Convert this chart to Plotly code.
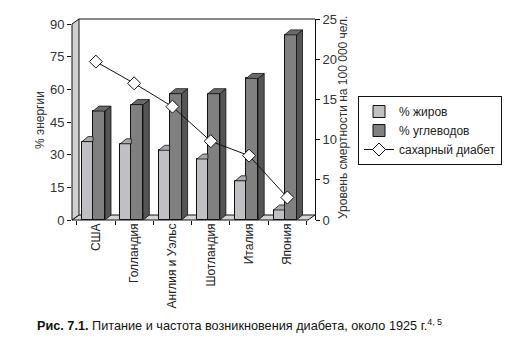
import plotly.graph_objects as go

countries = ["США", "Голландия", "Англия и Уэльс", "Шотландия", "Италия", "Япония"]
fat = [36, 35, 32, 28, 18, 4.6]
carbs = [50, 53, 58, 58, 65, 85]
diabetes = [19.7, 17, 14.1, 9.8, 8, 2.8]
left_ticks = [0, 15, 30, 45, 60, 75, 90]
right_ticks = [0, 5, 10, 15, 20, 25]

W, H = 519, 339
L, R, T, B = 72, 315, 19, 220          # plot area in px
X0 = -0.5 - (76.7 - L) / 38.3          # x range start (category units)
X1 = 5.5 + (R - 306.5) / 38.3
Y1 = 90 * (B - T) / 196.0              # left axis top value

pxx = (X1 - X0) / (R - L)              # category units per pixel
pxy = Y1 / (B - T)                     # left units per pixel
DX, DY = 6 * pxx, 5 * pxy

FAT_W, CARB_W = 11 * pxx, 12 * pxx
fat_x = [i - 0.5 + 5.3 * pxx + FAT_W / 2 for i in range(len(countries))]
carb_x = [i - 0.5 + 16.3 * pxx + CARB_W / 2 for i in range(len(countries))]

FONT = "Liberation Sans Narrow, Arial Narrow, Liberation Sans, Arial, sans-serif"

fig = go.Figure()

fig.add_trace(go.Bar(x=fat_x, y=fat, width=FAT_W, name="% жиров",
                     marker=dict(color="#c0c0c4", line=dict(color="#111", width=1)),
                     hoverinfo="skip"))
fig.add_trace(go.Bar(x=carb_x, y=carbs, width=CARB_W, name="% углеводов",
                     marker=dict(color="#808080", line=dict(color="#111", width=1)),
                     hoverinfo="skip"))

def poly_trace(polys, color):
    xs, ys = [], []
    for p in polys:
        for (a, b) in p + [p[0]]:
            xs.append(a); ys.append(b)
        xs.append(None); ys.append(None)
    return go.Scatter(x=xs, y=ys, mode="lines", fill="toself", fillcolor=color,
                      line=dict(color="#111", width=0.8), showlegend=False,
                      hoverinfo="skip")

# fat top faces (clipped where carbs bar front hides them)
fat_tops = []
for xc, v in zip(fat_x, fat):
    xl, xr = xc - FAT_W / 2, xc + FAT_W / 2
    fat_tops.append([(xl, v), (xl + DX, v + DY), (xr, v + DY), (xr, v)])
fig.add_trace(poly_trace(fat_tops, "#a9a9ad"))

carb_tops, carb_sides = [], []
for xc, v in zip(carb_x, carbs):
    xl, xr = xc - CARB_W / 2, xc + CARB_W / 2
    carb_tops.append([(xl, v), (xl + DX, v + DY), (xr + DX, v + DY), (xr, v)])
    carb_sides.append([(xr, 0), (xr + DX, DY), (xr + DX, v + DY), (xr, v)])
fig.add_trace(poly_trace(carb_sides, "#555555"))
fig.add_trace(poly_trace(carb_tops, "#6a6a6a"))

fig.add_trace(go.Scatter(x=list(range(len(countries))), y=diabetes, yaxis="y2",
                         name="сахарный диабет", mode="lines+markers",
                         line=dict(color="#111", width=1),
                         marker=dict(symbol="diamond", size=10, color="white",
                                     line=dict(color="#111", width=1)),
                         hoverinfo="skip"))

def px_to_paper(x, y):
    return ((x - L) / (R - L), (B - y) / (B - T))

def path(points):
    pts = [px_to_paper(x, y) for x, y in points]
    return "M " + " L ".join(f"{a},{b}" for a, b in pts) + " Z"

shapes = [
    # floor
    dict(type="path", xref="paper", yref="paper", layer="below",
         path=path([(72, 220), (79, 215), (315, 215), (308, 220)]),
         fillcolor="#d4d4d4", line=dict(color="#111", width=1)),
    # left wall
    dict(type="path", xref="paper", yref="paper", layer="below",
         path=path([(72, 220), (79, 215), (79, 19), (72, 24)]),
         fillcolor="#d0d0d0", line=dict(color="#111", width=1)),
    # back wall top edge
    dict(type="line", xref="paper", yref="paper", layer="below",
         x0=px_to_paper(79, 19)[0], y0=1, x1=1, y1=1,
         line=dict(color="#111", width=1)),
]

lx, ly = px_to_paper(358, 96)
cx, cy = px_to_paper(35, 325)
t1x, t1y = px_to_paper(40, 120)
t2x, t2y = px_to_paper(343, 118)

TICKFONT = dict(size=13, color="#333")

fig.update_layout(
    width=W, height=H,
    margin=dict(l=L, r=W - R, t=T, b=H - B, pad=0),
    paper_bgcolor="white", plot_bgcolor="rgba(0,0,0,0)",
    font=dict(family=FONT, size=12, color="#222"),
    showlegend=True, barmode="overlay", bargap=0,
    shapes=shapes,
    legend=dict(x=lx, y=ly, xanchor="left", yanchor="top",
                bordercolor="#111", borderwidth=1, bgcolor="white",
                font=dict(size=12), tracegroupgap=0, itemwidth=30),
    xaxis=dict(range=[X0, X1], tickvals=list(range(len(countries))), ticktext=countries,
               tickangle=-90, ticks="", showgrid=False, zeroline=False, showline=False,
               minor=dict(tickvals=[i + 0.5 for i in range(-1, len(countries))],
                          ticks="outside", ticklen=4, tickcolor="#111", showgrid=False),
               tickfont=dict(size=12, color="#222")),
    yaxis=dict(range=[0, Y1], tickvals=left_ticks, ticks="outside", ticklen=4,
               tickcolor="#111", showgrid=False, zeroline=False, showline=False,
               tickfont=TICKFONT),
    yaxis2=dict(range=[0, 25], tickvals=right_ticks, overlaying="y", side="right",
                ticks="outside", ticklen=4, tickcolor="#111", showgrid=False,
                zeroline=False, showline=True, linecolor="#111", linewidth=1,
                tickfont=TICKFONT),
    annotations=[
        dict(text="% энергии", x=t1x, y=t1y, xref="paper", yref="paper",
             xanchor="center", yanchor="middle",
             textangle=-90, showarrow=False, font=dict(size=12, color="#333")),
        dict(text="Уровень смертности на 100 000 чел.", x=t2x, y=t2y,
             xref="paper", yref="paper", xanchor="center", yanchor="middle",
             textangle=-90, showarrow=False, font=dict(size=12, color="#333")),
        dict(text="<b>Рис. 7.1.</b> Питание и частота возникновения диабета, около 1925 г.<sup>4, 5</sup>",
             x=cx, y=cy, xref="paper", yref="paper", xanchor="left", yanchor="middle",
             showarrow=False, font=dict(size=12.7, color="#111")),
    ],
)

fig.write_html("out.html")
